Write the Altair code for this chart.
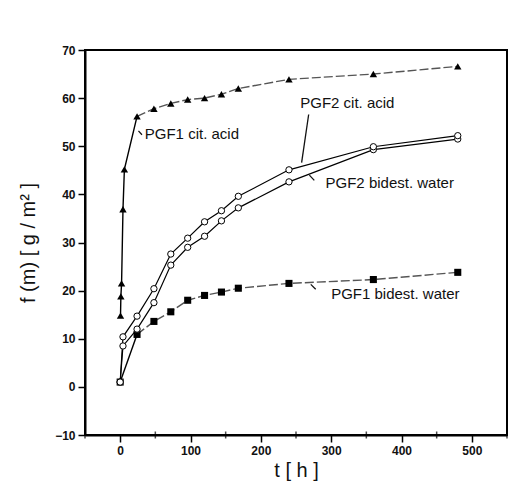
import altair as alt
import pandas as pd

# ---- data ----
t_pgf1_cit = [0.5, 1, 2, 4, 6, 24, 48, 72, 96, 120, 144, 168, 240, 360, 480]
v_pgf1_cit = [14.8, 18.8, 21.5, 36.9, 45.2, 56.2, 57.8, 58.9, 59.7, 60.0, 60.8, 62.0, 63.9, 65.0, 66.6]

t_pgf2 = [0, 4, 24, 48, 72, 96, 120, 144, 168, 240, 360, 480]
v_pgf2_cit = [1.0, 10.4, 14.7, 20.4, 27.6, 30.9, 34.3, 36.6, 39.6, 45.1, 49.9, 52.2]
v_pgf2_water = [1.0, 8.5, 12.0, 17.5, 25.3, 29.0, 31.3, 34.5, 37.2, 42.6, 49.3, 51.5]

t_pgf1_water = [0, 24, 48, 72, 96, 120, 144, 168, 240, 360, 480]
v_pgf1_water = [1.0, 10.9, 13.6, 15.6, 18.0, 19.0, 19.7, 20.5, 21.5, 22.3, 23.8]

label_text = ["PGF1 cit. acid", "PGF2 cit. acid", "PGF2 bidest. water", "PGF1 bidest. water"]
label_t = [35, 256, 292, 300]
label_v = [52.5, 59.0, 42.4, 19.2]

leader_t1 = [31, 268, 269, 271]
leader_v1 = [52.4, 56.6, 44.0, 21.3]
leader_t2 = [26, 258, 276, 278]
leader_v2 = [53.2, 46.6, 42.9, 20.3]

x_major = [0, 100, 200, 300, 400, 500]
x_minor = [-50, 50, 150, 250, 350, 450, 550]
y_ticks = list(range(-10, 71, 5))

# ---- tables ----
d_tri = pd.DataFrame({"t": t_pgf1_cit, "v": v_pgf1_cit})
d_cit2 = pd.DataFrame({"t": t_pgf2, "v": v_pgf2_cit})
d_wat2 = pd.DataFrame({"t": t_pgf2, "v": v_pgf2_water})
d_sq = pd.DataFrame({"t": t_pgf1_water, "v": v_pgf1_water})
d_lab = pd.DataFrame({"t": label_t, "v": label_v, "txt": label_text})
d_lead = pd.DataFrame({"t": leader_t1, "v": leader_v1, "t2": leader_t2, "v2": leader_v2})
d_minor = pd.DataFrame({"t": x_minor})

FONT = "Liberation Sans"

x_enc = alt.X(
    "t:Q",
    scale=alt.Scale(domain=[-50, 550], nice=False, zero=False),
    axis=alt.Axis(
        values=x_major,
        format="d",
        labelOverlap=False,
        labelFlush=False,
        tickSize=7,
        title="t  [ h ]",
        grid=False,
    ),
)
y_enc = alt.Y(
    "v:Q",
    scale=alt.Scale(domain=[-10, 70], nice=False, zero=False),
    axis=alt.Axis(
        values=y_ticks,
        labelExpr="datum.value % 10 === 0 ? datum.label : ''",
        labelOverlap=False,
        tickSize={"condition": {"test": "datum.value % 10 === 0", "value": 7}, "value": 4},
        title="f (m)  [ g / m² ]",
        grid=False,
    ),
)

tri_early = alt.Chart(d_tri).transform_filter("datum.t <= 24").mark_line(
    color="black", strokeWidth=1.4).encode(x=x_enc, y=y_enc, order="t:Q")
tri_late = alt.Chart(d_tri).transform_filter("datum.t >= 24").mark_line(
    color="#555", strokeWidth=1.4, strokeDash=[9, 3]).encode(x="t:Q", y="v:Q", order="t:Q")
tri_pts = alt.Chart(d_tri).mark_point(shape="triangle-up", filled=True, color="black", size=55, opacity=1).encode(
    x="t:Q", y="v:Q")

cit2_line = alt.Chart(d_cit2).mark_line(color="black", strokeWidth=1.2).encode(x="t:Q", y="v:Q", order="t:Q")
cit2_pts = alt.Chart(d_cit2).mark_point(shape="circle", filled=True, fill="white", stroke="black",
                                        strokeWidth=1, size=40, opacity=1).encode(x="t:Q", y="v:Q")
wat2_line = alt.Chart(d_wat2).mark_line(color="black", strokeWidth=1.2).encode(x="t:Q", y="v:Q", order="t:Q")
wat2_pts = alt.Chart(d_wat2).mark_point(shape="circle", filled=True, fill="white", stroke="black",
                                        strokeWidth=1, size=40, opacity=1).encode(x="t:Q", y="v:Q")

sq_early = alt.Chart(d_sq).transform_filter("datum.t <= 24").mark_line(
    color="black", strokeWidth=1.4).encode(x="t:Q", y="v:Q", order="t:Q")
sq_late = alt.Chart(d_sq).transform_filter("datum.t >= 24").mark_line(
    color="#555", strokeWidth=1.4, strokeDash=[9, 3]).encode(x="t:Q", y="v:Q", order="t:Q")
sq_pts = alt.Chart(d_sq).mark_point(shape="square", filled=True, color="black", size=50, opacity=1).encode(
    x="t:Q", y="v:Q")

minor_ticks = alt.Chart(d_minor).mark_tick(orient="vertical", color="black", size=7, thickness=1.5).encode(
    x="t:Q", y=alt.datum(-10))

labels = alt.Chart(d_lab).mark_text(align="left", baseline="middle", font=FONT, fontSize=15,
                                    color="#111").encode(x="t:Q", y="v:Q", text="txt:N")
leaders = alt.Chart(d_lead).mark_rule(color="#111", strokeWidth=1.3).encode(
    x="t:Q", y="v:Q", x2="t2:Q", y2="v2:Q")

chart = alt.layer(
    tri_early, tri_late, sq_early, sq_late, wat2_line, cit2_line,
    tri_pts, sq_pts, wat2_pts, cit2_pts,
    minor_ticks, leaders, labels,
).properties(
    width=422, height=385,
    autosize="none",
    padding={"left": 85, "top": 50, "right": 10, "bottom": 48},
    background="white",
).configure_view(
    stroke="black", strokeWidth=2,
).configure_axis(
    domainColor="black", domainWidth=2, tickColor="black", tickWidth=1.5,
    labelFont=FONT, labelFontSize=12, labelFontWeight="bold", labelColor="#111",
    labelPadding=3,
    titleFont=FONT, titleFontSize=20, titleFontWeight="normal", titleColor="#111",
).configure_axisY(titlePadding=16).configure_axisX(titlePadding=4)

chart.save("out.html", embed_options={"renderer": "svg", "actions": False})
